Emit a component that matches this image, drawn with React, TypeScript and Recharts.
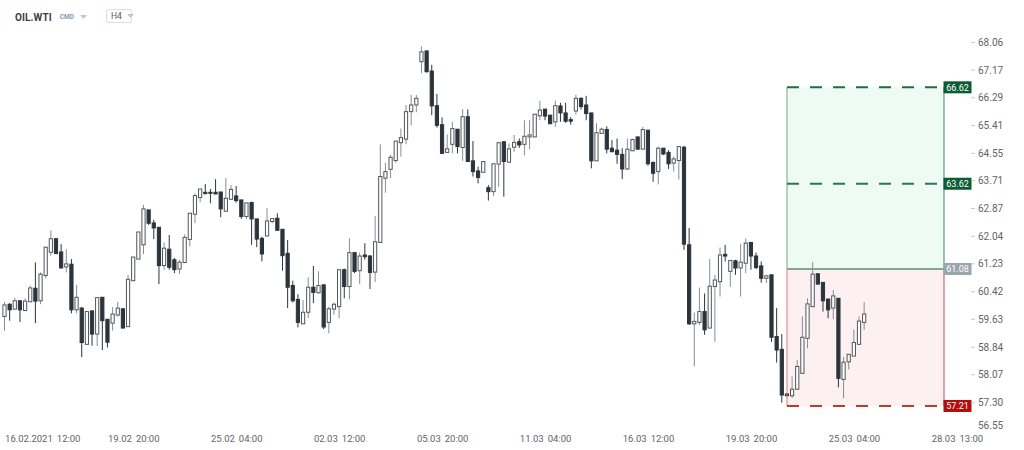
import React from "react";
import { ComposedChart, Bar, XAxis, YAxis, ReferenceArea, ReferenceLine } from "recharts";

// ---- data (H4 candles, OIL.WTI) ----
const opens = [
  59.71, 60.06, 59.92, 60.16, 59.88, 60.13, 60.52, 60.16, 60.89, 61.57,
  61.97, 61.58, 61.14, 61.22, 59.90, 59.95, 58.92, 59.87, 59.21, 60.26,
  59.63, 59.52, 59.75, 59.93, 59.42, 60.74, 61.37, 61.79, 62.83, 62.44,
  62.31, 61.18, 61.66, 61.35, 61.08, 61.27, 61.95, 62.70, 63.20, 63.36,
  63.36, 63.36, 63.37, 62.79, 63.15, 63.25, 63.13, 62.63, 63.05, 62.56,
  61.98, 62.05, 62.48, 62.58, 62.25, 61.54, 60.60, 60.20, 59.50, 59.83,
  60.55, 60.39, 60.62, 59.54, 59.92, 59.99, 61.06, 60.57, 61.56, 61.03,
  61.49, 61.46, 60.99, 61.86, 63.79, 64.06, 64.33, 64.88, 64.99, 65.85,
  66.06, 67.44, 67.79, 67.14, 66.04, 65.44, 64.58, 64.83, 65.30, 64.73,
  65.69, 64.32, 64.01, 63.97, 63.50, 63.38, 64.22, 64.91, 64.28, 64.74,
  64.91, 64.83, 65.06, 65.06, 65.72, 65.93, 65.74, 65.53, 66.03, 65.81,
  65.60, 65.87, 66.27, 66.06, 65.81, 64.32, 65.17, 65.29, 64.71, 64.65,
  64.52, 64.07, 64.63, 65.06, 64.68, 65.27, 64.27, 63.99, 64.71, 64.58,
  64.25, 64.33, 64.74, 61.79, 59.50, 59.54, 59.85, 59.38, 60.57, 60.71,
  61.51, 61.01, 61.32, 61.11, 61.25, 61.86, 61.46, 61.17, 60.81, 60.91,
  59.14, 58.78, 57.54, 57.49, 57.67, 58.11, 59.09, 59.99, 60.94, 60.69,
  60.21, 59.95, 60.23, 57.94, 58.43, 58.59, 58.92, 59.54,
];
const highs = [
  60.13, 60.09, 60.25, 60.18, 60.23, 60.60, 61.27, 60.98, 61.72, 62.22,
  61.99, 61.81, 61.66, 61.37, 60.62, 59.98, 59.85, 59.87, 60.25, 60.26,
  59.63, 59.98, 60.13, 59.93, 60.91, 61.43, 62.17, 62.98, 62.83, 62.53,
  62.31, 61.86, 62.08, 61.40, 61.35, 62.10, 62.73, 63.33, 63.46, 63.61,
  63.46, 63.76, 63.37, 63.79, 63.58, 63.55, 63.13, 63.04, 63.08, 62.56,
  62.03, 62.88, 62.57, 62.73, 62.25, 61.93, 60.74, 60.35, 60.18, 60.84,
  61.17, 61.01, 60.62, 59.99, 60.11, 61.06, 61.09, 61.98, 61.56, 61.56,
  61.84, 61.49, 62.65, 64.83, 64.26, 64.50, 64.93, 65.32, 66.06, 66.38,
  66.38, 67.94, 67.79, 67.34, 66.41, 65.67, 65.14, 65.53, 65.30, 65.93,
  65.92, 64.93, 64.14, 64.30, 63.58, 64.23, 64.91, 64.91, 64.86, 65.12,
  65.01, 65.58, 65.58, 65.77, 66.19, 65.93, 65.74, 66.20, 66.13, 66.13,
  65.68, 66.38, 66.30, 66.35, 65.81, 65.49, 65.35, 65.39, 64.96, 65.01,
  64.71, 65.01, 65.00, 65.06, 65.37, 65.27, 64.30, 64.76, 64.71, 64.65,
  64.45, 64.78, 64.78, 62.29, 59.82, 60.54, 60.37, 61.37, 60.91, 61.71,
  61.79, 61.33, 61.35, 61.82, 61.98, 61.87, 61.56, 61.30, 60.91, 60.91,
  59.95, 59.21, 57.55, 58.02, 58.48, 59.71, 60.23, 61.28, 60.96, 60.69,
  60.21, 60.47, 60.23, 58.57, 58.64, 59.34, 59.71, 60.12,
];
const lows = [
  59.30, 59.59, 59.90, 59.55, 59.88, 60.12, 59.52, 60.06, 60.81, 61.47,
  61.52, 61.10, 60.98, 59.80, 59.80, 58.56, 58.92, 58.88, 58.87, 58.76,
  58.83, 59.31, 59.71, 59.38, 59.42, 60.74, 61.37, 61.52, 62.38, 61.96,
  60.64, 61.06, 61.06, 60.96, 60.94, 61.25, 61.74, 62.43, 63.06, 63.30,
  63.03, 63.31, 62.61, 62.79, 63.13, 63.05, 62.56, 62.55, 61.79, 61.72,
  61.30, 62.05, 62.43, 62.20, 61.03, 59.95, 60.11, 59.40, 59.50, 59.66,
  60.09, 60.37, 59.35, 59.23, 59.76, 59.66, 60.23, 60.20, 60.96, 60.64,
  61.35, 60.50, 60.70, 61.86, 63.35, 63.79, 64.26, 64.45, 64.83, 65.42,
  65.83, 67.07, 67.09, 65.74, 65.35, 64.54, 64.56, 64.55, 64.55, 64.32,
  64.30, 63.84, 63.63, 63.97, 63.11, 63.25, 63.53, 63.23, 64.26, 64.60,
  64.72, 64.49, 64.68, 65.06, 65.58, 65.58, 65.46, 65.37, 65.53, 65.50,
  65.44, 65.76, 65.92, 65.58, 64.09, 64.32, 65.17, 64.55, 64.60, 64.23,
  63.76, 64.04, 64.62, 64.66, 64.68, 64.17, 63.68, 63.60, 64.50, 64.07,
  63.99, 63.75, 61.64, 59.47, 58.30, 59.47, 59.19, 59.38, 58.99, 60.28,
  61.30, 60.56, 60.91, 60.28, 60.96, 61.06, 61.08, 60.68, 60.67, 58.99,
  58.41, 57.30, 57.48, 57.43, 57.65, 58.11, 58.81, 59.99, 60.64, 59.85,
  59.66, 59.63, 57.72, 57.42, 58.22, 58.59, 58.92, 59.33,
];
const closes = [
  60.04, 59.90, 60.16, 59.90, 60.15, 60.53, 60.15, 60.93, 61.72, 61.97,
  61.53, 61.11, 61.23, 59.90, 60.26, 58.97, 59.85, 59.21, 60.25, 59.59,
  58.98, 59.78, 59.95, 59.38, 60.78, 61.43, 62.17, 62.86, 62.43, 62.29,
  61.18, 61.69, 61.13, 61.06, 61.28, 62.01, 62.73, 63.26, 63.46, 63.32,
  63.33, 63.31, 62.86, 63.18, 63.45, 63.11, 62.63, 63.04, 62.56, 61.96,
  61.52, 62.50, 62.57, 62.22, 61.47, 60.55, 60.16, 59.54, 59.83, 60.55,
  60.40, 60.60, 59.41, 59.93, 60.06, 61.06, 60.57, 61.56, 61.01, 61.46,
  61.44, 60.98, 61.88, 63.84, 63.99, 64.43, 64.93, 65.04, 65.85, 66.06,
  66.27, 67.76, 67.12, 66.03, 65.42, 64.55, 64.69, 65.32, 64.76, 65.69,
  64.30, 63.99, 63.81, 64.30, 63.38, 64.23, 64.88, 64.30, 64.69, 64.89,
  64.81, 65.08, 65.12, 65.77, 65.90, 65.71, 65.47, 66.04, 65.81, 65.55,
  65.55, 66.27, 66.01, 65.79, 64.32, 65.19, 65.30, 64.68, 64.60, 64.52,
  64.07, 64.68, 64.98, 64.68, 65.29, 64.23, 63.94, 64.71, 64.53, 64.23,
  64.38, 64.76, 61.81, 59.50, 59.57, 59.85, 59.33, 60.58, 60.76, 61.49,
  61.46, 61.33, 61.11, 61.28, 61.84, 61.46, 61.12, 60.81, 60.88, 59.12,
  58.76, 57.51, 57.49, 57.67, 58.30, 59.12, 60.07, 60.93, 60.64, 60.16,
  59.90, 60.30, 57.97, 58.42, 58.64, 58.97, 59.58, 59.78,
];

const TOTAL_SLOTS = 183;
const xTickIdx = [0, 20, 40, 60, 80, 100, 120, 140, 160, 180];
const xTickLabels = [
  "16.02.2021 12:00", "19.02 20:00", "25.02 04:00", "02.03 12:00", "05.03 20:00",
  "11.03 04:00", "16.03 12:00", "19.03 20:00", "25.03 04:00", "28.03 13:00",
];
const yTicks = [68.06, 67.17, 66.29, 65.41, 64.55, 63.71, 62.87, 62.04, 61.23, 60.42, 59.63, 58.84, 58.07, 57.3, 56.55];
const Y_DOMAIN: [number, number] = [56.503, 68.47];

// position box levels
const boxStart = 152;
const boxEnd = 182.5;
const takeProfit2 = 66.62;
const takeProfit1 = 63.62;
const entryLevel = 61.08;
const stopLevel = 57.21;

const data = Array.from({ length: TOTAL_SLOTS }, (_, i) =>
  i < opens.length
    ? { t: i, open: opens[i], high: highs[i], low: lows[i], close: closes[i], range: [lows[i], highs[i]] }
    : { t: i, range: null }
);

const BEAR = "#2c343b";
const BULL_EDGE = "#4f565d";
const BULL_WICK = "#878d93";
const AXIS_TEXT = "#5f6368";
const FONT = "Roboto, 'Noto Sans', sans-serif";

function Candle(props: any) {
  const { x, y, width, height, payload } = props;
  if (!payload || payload.open == null || !isFinite(y) || !isFinite(height)) return null;
  const cx = x + width / 2;
  const top = Math.min(y, y + height);
  const h = Math.abs(height);
  const lh = Math.log(payload.high);
  const ll = Math.log(payload.low);
  const span = lh - ll;
  const py = (v: number) => (span > 0 ? top + (h * (lh - Math.log(v))) / span : top);
  const yo = py(payload.open);
  const yc = py(payload.close);
  const bull = payload.close >= payload.open;
  const bTop = Math.min(yo, yc);
  const bH = Math.max(1, Math.abs(yo - yc));
  const bw = 3.2;
  return (
    <g>
      <line x1={cx} x2={cx} y1={top} y2={top + Math.max(h, 1)} stroke={bull ? BULL_WICK : BEAR} strokeWidth={1} />
      <rect
        x={cx - bw / 2}
        y={bTop}
        width={bw}
        height={bH}
        fill={bull ? "#ffffff" : BEAR}
        stroke={bull ? BULL_EDGE : BEAR}
        strokeWidth={1}
      />
    </g>
  );
}

function YTick(props: any) {
  const { x, y, payload } = props;
  const shifted = y > 424;
  const ty = shifted ? 425 : y;
  return (
    <g>
      {!shifted && <line x1={x + 27} x2={x + 31} y1={ty} y2={ty} stroke="#c9c9c9" strokeWidth={1} />}
      <text x={x + 34} y={ty} dy={3.5} fontSize={10} fill={AXIS_TEXT} fontFamily={FONT}>
        {Number(payload.value).toFixed(2)}
      </text>
    </g>
  );
}

function XTick(props: any) {
  const { x, y, payload } = props;
  const k = xTickIdx.indexOf(Number(payload.value));
  if (k < 0) return null;
  const [d, t] = xTickLabels[k].split(" ");
  return (
    <text x={x + 0.5} y={y + 9.5} fontSize={9.5} fill={AXIS_TEXT} fontFamily={FONT}>
      <tspan>{d}</tspan>
      <tspan dx={4}>{t}</tspan>
    </text>
  );
}

const priceTag = (value: number, bg: string) => (p: any) => {
  const vb = p.viewBox || {};
  const right = (vb.x || 0) + (vb.width || 0);
  const cy = vb.y || 0;
  return (
    <g>
      <rect x={right - 0.5} y={cy - 6} width={28} height={12} fill={bg} />
      <text x={right + 13.5} y={cy} dy={3.2} textAnchor="middle" fontSize={9} fill="#ffffff" fontFamily={FONT}>
        {value.toFixed(2)}
      </text>
    </g>
  );
};

const Caret = ({ color }: { color: string }) => (
  <svg width="7" height="4" style={{ display: "inline-block", verticalAlign: "middle" }}>
    <path d="M0 0 L7 0 L3.5 4 Z" fill={color} />
  </svg>
);

export default function App() {
  return (
    <div style={{ position: "relative", width: 1024, height: 450, background: "#ffffff", fontFamily: FONT }}>
      <style>{"body{margin:0;background:#fff}"}</style>
      <div style={{ position: "absolute", left: 15, top: 10, height: 14, display: "flex", alignItems: "center", zIndex: 2 }}>
        <span style={{ fontSize: 10, fontWeight: 700, color: "#3a3f44", letterSpacing: 0.1 }}>OIL.WTI</span>
        <span style={{ fontSize: 6.5, fontWeight: 700, color: "#7f9bb8", marginLeft: 8 }}>CMD</span>
        <span style={{ marginLeft: 6, marginTop: -2 }}>
          <Caret color="#c4c7ca" />
        </span>
      </div>
      <div
        style={{
          position: "absolute",
          left: 106,
          top: 9,
          width: 26,
          height: 14,
          border: "1px solid #dcdfe2",
          borderRadius: 2,
          display: "flex",
          alignItems: "center",
          boxSizing: "border-box",
          paddingLeft: 4,
          zIndex: 2,
        }}
      >
        <span style={{ fontSize: 8.5, color: "#555b61" }}>H4</span>
        <span style={{ marginLeft: 5, marginTop: -2 }}>
          <Caret color="#c4c7ca" />
        </span>
      </div>
      <ComposedChart width={1024} height={450} data={data} margin={{ top: 30, right: 0, bottom: 0, left: 2 }}>
        <XAxis
          xAxisId="c"
          dataKey="t"
          type="category"
          ticks={xTickIdx}
          interval={0}
          height={18}
          axisLine={false}
          tickLine={false}
          tickSize={0}
          tickMargin={0}
          tick={<XTick />}
        />
        <XAxis xAxisId="n" type="number" dataKey="t" domain={[-0.5, 182.5]} allowDataOverflow hide />
        <YAxis
          orientation="right"
          width={80}
          scale="log"
          domain={Y_DOMAIN}
          allowDataOverflow
          ticks={yTicks}
          interval={0}
          axisLine={false}
          tickLine={false}
          tickSize={0}
          tickMargin={0}
          tick={<YTick />}
        />
        <ReferenceArea
          xAxisId="n"
          x1={boxStart}
          x2={boxEnd}
          y1={entryLevel}
          y2={takeProfit2}
          fill="#eefaf4"
          fillOpacity={1}
          stroke="none"
          ifOverflow="visible"
        />
        <ReferenceArea
          xAxisId="n"
          x1={boxStart}
          x2={boxEnd}
          y1={stopLevel}
          y2={entryLevel}
          fill="#fdf0f0"
          fillOpacity={1}
          stroke="none"
          ifOverflow="visible"
        />
        <ReferenceLine
          xAxisId="n"
          segment={[{ x: boxStart, y: entryLevel }, { x: boxStart, y: takeProfit2 }]}
          stroke="#6aa888"
          strokeWidth={1}
          ifOverflow="visible"
        />
        <ReferenceLine
          xAxisId="n"
          segment={[{ x: boxEnd, y: entryLevel }, { x: boxEnd, y: takeProfit2 }]}
          stroke="#3f8a66"
          strokeWidth={1}
          ifOverflow="visible"
        />
        <ReferenceLine
          xAxisId="n"
          segment={[{ x: boxStart, y: stopLevel }, { x: boxStart, y: entryLevel }]}
          stroke="#e07b7b"
          strokeWidth={1}
          ifOverflow="visible"
        />
        <ReferenceLine
          xAxisId="n"
          segment={[{ x: boxEnd, y: stopLevel }, { x: boxEnd, y: entryLevel }]}
          stroke="#cc4b4b"
          strokeWidth={1}
          ifOverflow="visible"
        />
        <ReferenceLine
          xAxisId="n"
          segment={[{ x: boxStart, y: takeProfit2 }, { x: boxEnd, y: takeProfit2 }]}
          stroke="#226b48"
          strokeWidth={2}
          strokeDasharray="12 11"
          ifOverflow="visible"
        />
        <ReferenceLine
          xAxisId="n"
          segment={[{ x: boxStart, y: takeProfit1 }, { x: boxEnd, y: takeProfit1 }]}
          stroke="#2a7550"
          strokeWidth={2}
          strokeDasharray="12 11"
          ifOverflow="visible"
        />
        <ReferenceLine
          xAxisId="n"
          segment={[{ x: boxStart, y: entryLevel }, { x: boxEnd, y: entryLevel }]}
          stroke="#87a394"
          strokeWidth={2}
          ifOverflow="visible"
        />
        <ReferenceLine
          xAxisId="n"
          segment={[{ x: boxStart, y: stopLevel }, { x: boxEnd, y: stopLevel }]}
          stroke="#c0392b"
          strokeWidth={2}
          strokeDasharray="12 11"
          ifOverflow="visible"
        />
        <Bar xAxisId="c" dataKey="range" shape={<Candle />} isAnimationActive={false} />
        <ReferenceLine xAxisId="n" y={takeProfit2} stroke="none" strokeOpacity={0} label={priceTag(takeProfit2, "#0b5b35")} />
        <ReferenceLine xAxisId="n" y={takeProfit1} stroke="none" strokeOpacity={0} label={priceTag(takeProfit1, "#0b5b35")} />
        <ReferenceLine xAxisId="n" y={entryLevel} stroke="none" strokeOpacity={0} label={priceTag(entryLevel, "#9aa6ae")} />
        <ReferenceLine xAxisId="n" y={stopLevel} stroke="none" strokeOpacity={0} label={priceTag(stopLevel, "#b50d0d")} />
      </ComposedChart>
    </div>
  );
}
